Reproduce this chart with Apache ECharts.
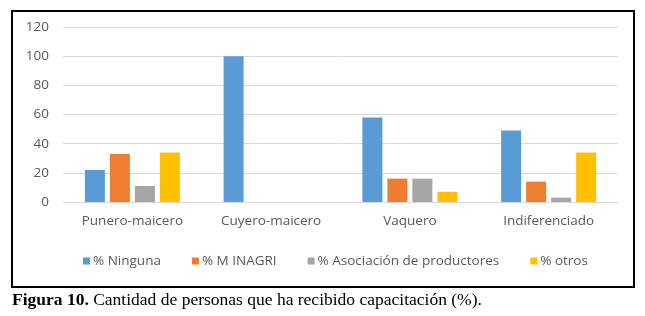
<!DOCTYPE html>
<html>
<head>
<meta charset="utf-8">
<script src="https://cdn.jsdelivr.net/npm/echarts@6/dist/echarts.min.js"></script>
<style>
html, body { margin: 0; padding: 0; background: #fff; }
#chart { width: 645px; height: 316px; }
</style>
</head>
<body>
<div id="chart"></div>
<script>
// categorías y series
const categories = ['Punero-maicero', 'Cuyero-maicero', 'Vaquero', 'Indiferenciado']
const ninguna = [22, 100, 58, 49]
const minagri = [33, 0, 16, 14]
const asociacion = [11, 0, 16, 3]
const otros = [34, 0, 7, 34]
const seriesNames = ['% Ninguna', '% M INAGRI', '% Asociación de productores', '% otros']
const colors = ['#5b9bd5', '#ed7d31', '#a5a5a5', '#ffc000']

const chart = echarts.init(document.getElementById('chart'))

const mkBar = (name, data) => ({
  name: name,
  type: 'bar',
  data: data,
  barWidth: 20,
  barGap: '25%'
})

const option = {
  backgroundColor: '#ffffff',
  animation: false,
  color: colors,
  textStyle: { fontFamily: 'Open Sans' },
  grid: { left: 63, right: 27, top: 27, bottom: 114 },
  legend: {
    bottom: 43,
    left: 78,
    itemWidth: 7,
    itemHeight: 7,
    itemGap: 31,
    icon: 'rect',
    textStyle: { color: '#595959', fontSize: 13.5, fontFamily: 'Open Sans', padding: [0, 0, 0, -2] },
    data: seriesNames
  },
  xAxis: {
    type: 'category',
    data: categories,
    axisTick: { show: false },
    axisLine: { lineStyle: { color: '#d9d9d9' } },
    axisLabel: { color: '#595959', fontSize: 13.5, margin: 12 }
  },
  yAxis: {
    type: 'value',
    min: 0,
    max: 120,
    interval: 20,
    axisLine: { show: false },
    axisTick: { show: false },
    splitLine: { lineStyle: { color: '#d9d9d9' } },
    axisLabel: { color: '#595959', fontSize: 13.5, margin: 14 }
  },
  graphic: [
    {
      type: 'rect',
      shape: { x: 12, y: 11, width: 622, height: 276 },
      style: { fill: 'none', stroke: '#000', lineWidth: 2 }
    },
    {
      type: 'text',
      left: 12,
      top: 291,
      style: {
        text: '{b|Figura 10.} Cantidad de personas que ha recibido capacitación (%).',
        rich: {
          b: { fontWeight: 'bold', fontFamily: 'Liberation Serif', fontSize: 17.5, fill: '#000' }
        },
        font: '17.5px "Liberation Serif"',
        fill: '#000'
      }
    }
  ],
  series: [
    mkBar(seriesNames[0], ninguna),
    mkBar(seriesNames[1], minagri),
    mkBar(seriesNames[2], asociacion),
    mkBar(seriesNames[3], otros)
  ]
}
chart.setOption(option)
</script>
</body>
</html>
